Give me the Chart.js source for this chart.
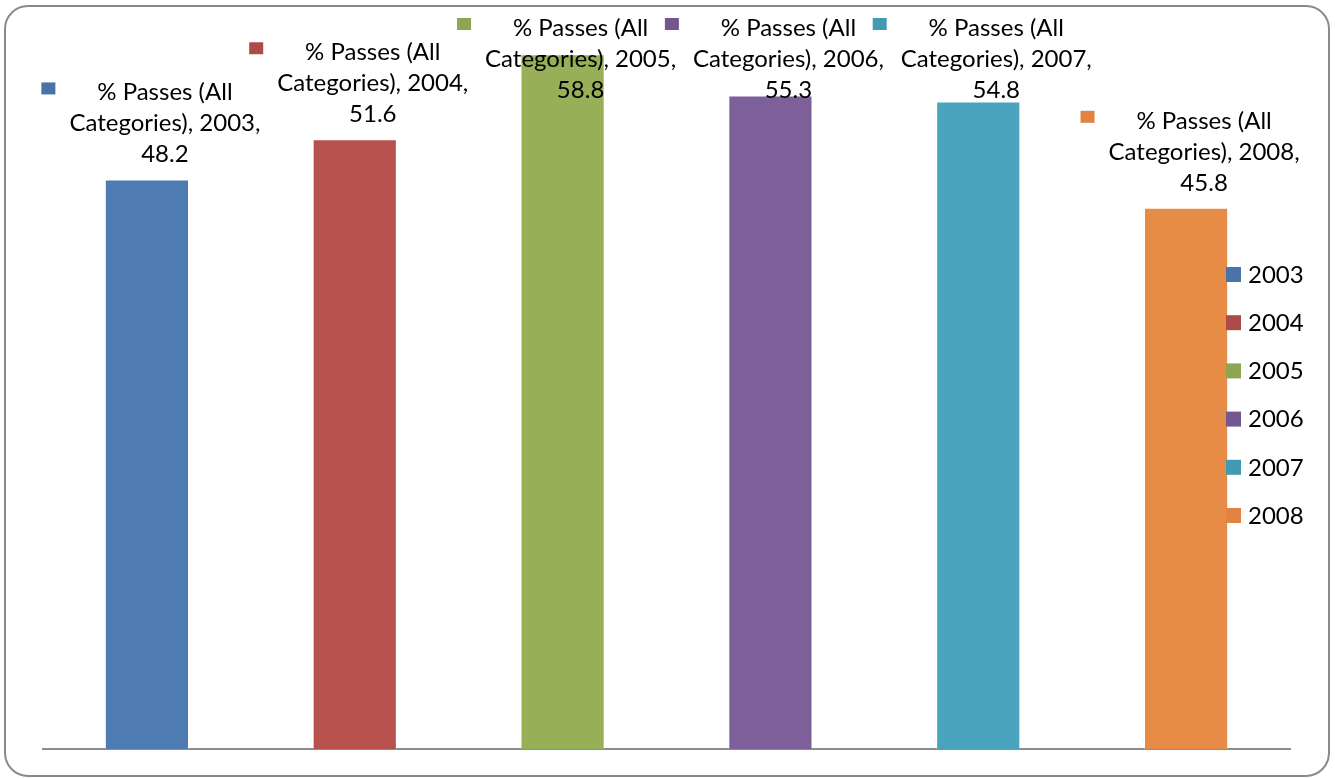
<!DOCTYPE html>
<html lang="en">
<head>
  <meta charset="UTF-8" />
  <title>% Passes (All Categories)</title>
  <style>
    html, body {
      margin: 0;
      padding: 0;
      background: #ffffff;
    }
    .wrap {
      position: relative;
      width: 1335px;
      height: 778px;
      overflow: hidden;
    }
    .frame {
      position: absolute;
      left: 4px;
      top: 5px;
      width: 1322px;
      height: 768px;
      border: 2px solid #8a8a8a;
      border-radius: 24px;
      box-sizing: content-box;
    }
    #chart {
      position: absolute;
      left: 0;
      top: 0;
    }
  </style>
  <script src="https://cdn.jsdelivr.net/npm/chart.js"></script>
</head>
<body>
  <div class="wrap">
    <div class="frame"></div>
    <canvas id="chart" width="1335" height="778"></canvas>
  </div>
  <script>
    const seriesName = '% Passes (All Categories)';
    const years = ['2003', '2004', '2005', '2006', '2007', '2008'];
    const passes = [48.2, 51.6, 58.8, 55.3, 54.8, 45.8];
    const barColors = ['#4e7bb1', '#b7514d', '#97b058', '#7d6099', '#4aa4bd', '#e68c47'];
    const markColors = ['#4a73a8', '#ac4b48', '#8ca651', '#735890', '#4499b2', '#e0843f'];

    const FONT = '24px Lato, "Noto Sans", sans-serif';

    // data labels: marker square + 3 lines of text above each bar
    const barLabels = {
      id: 'barLabels',
      afterDatasetsDraw(chart) {
        const ctx = chart.ctx;
        const meta = chart.getDatasetMeta(0);
        ctx.save();
        ctx.font = FONT;
        ctx.fillStyle = '#000';
        ctx.textAlign = 'center';
        ctx.textBaseline = 'middle';
        meta.data.forEach((bar, i) => {
          const lines = [
            '% Passes (All',
            'Categories), ' + years[i] + ',',
            passes[i].toFixed(1)
          ];
          const lineH = 31;
          const cx = bar.x + 18;
          let y1 = bar.y - 25 - lineH * 2;
          if (y1 < 28) y1 = 28;
          const widest = Math.max(...lines.map(l => ctx.measureText(l).width));
          lines.forEach((l, k) => ctx.fillText(l, cx, y1 + k * lineH));
          ctx.fillStyle = markColors[i];
          ctx.fillRect(cx - widest / 2 - 28, y1 - 10, 14, 12);
          ctx.fillStyle = '#000';
        });
        ctx.restore();
      }
    };

    // legend drawn over the plot on the right
    const sideLegend = {
      id: 'sideLegend',
      afterDraw(chart) {
        const ctx = chart.ctx;
        ctx.save();
        ctx.font = FONT;
        ctx.textBaseline = 'middle';
        years.forEach((y, i) => {
          const yy = 275 + i * 48.2;
          ctx.fillStyle = markColors[i];
          ctx.fillRect(1226, yy - 8, 15, 15);
          ctx.fillStyle = '#000';
          ctx.fillText(y, 1248, yy);
        });
        ctx.restore();
      }
    };

    new Chart('chart', {
      type: 'bar',
      data: {
        labels: years,
        datasets: [{
          label: seriesName,
          data: passes,
          backgroundColor: barColors,
          borderColor: 'rgba(255,255,255,0.35)',
          borderWidth: { left: 1, right: 1, top: 1, bottom: 0 },
          barPercentage: 0.405,
          categoryPercentage: 1.0
        }]
      },
      options: {
        responsive: false,
        animation: false,
        layout: { padding: { left: 43, right: 45, top: 40, bottom: 29 } },
        plugins: {
          legend: { display: false },
          tooltip: { enabled: false }
        },
        scales: {
          x: {
            grid: { display: false, drawTicks: false },
            ticks: { display: false },
            border: { display: true, color: '#8c8c8c', width: 2 }
          },
          y: {
            display: false,
            min: 0,
            max: 60
          }
        }
      },
      plugins: [barLabels, sideLegend]
    });
  </script>
</body>
</html>
